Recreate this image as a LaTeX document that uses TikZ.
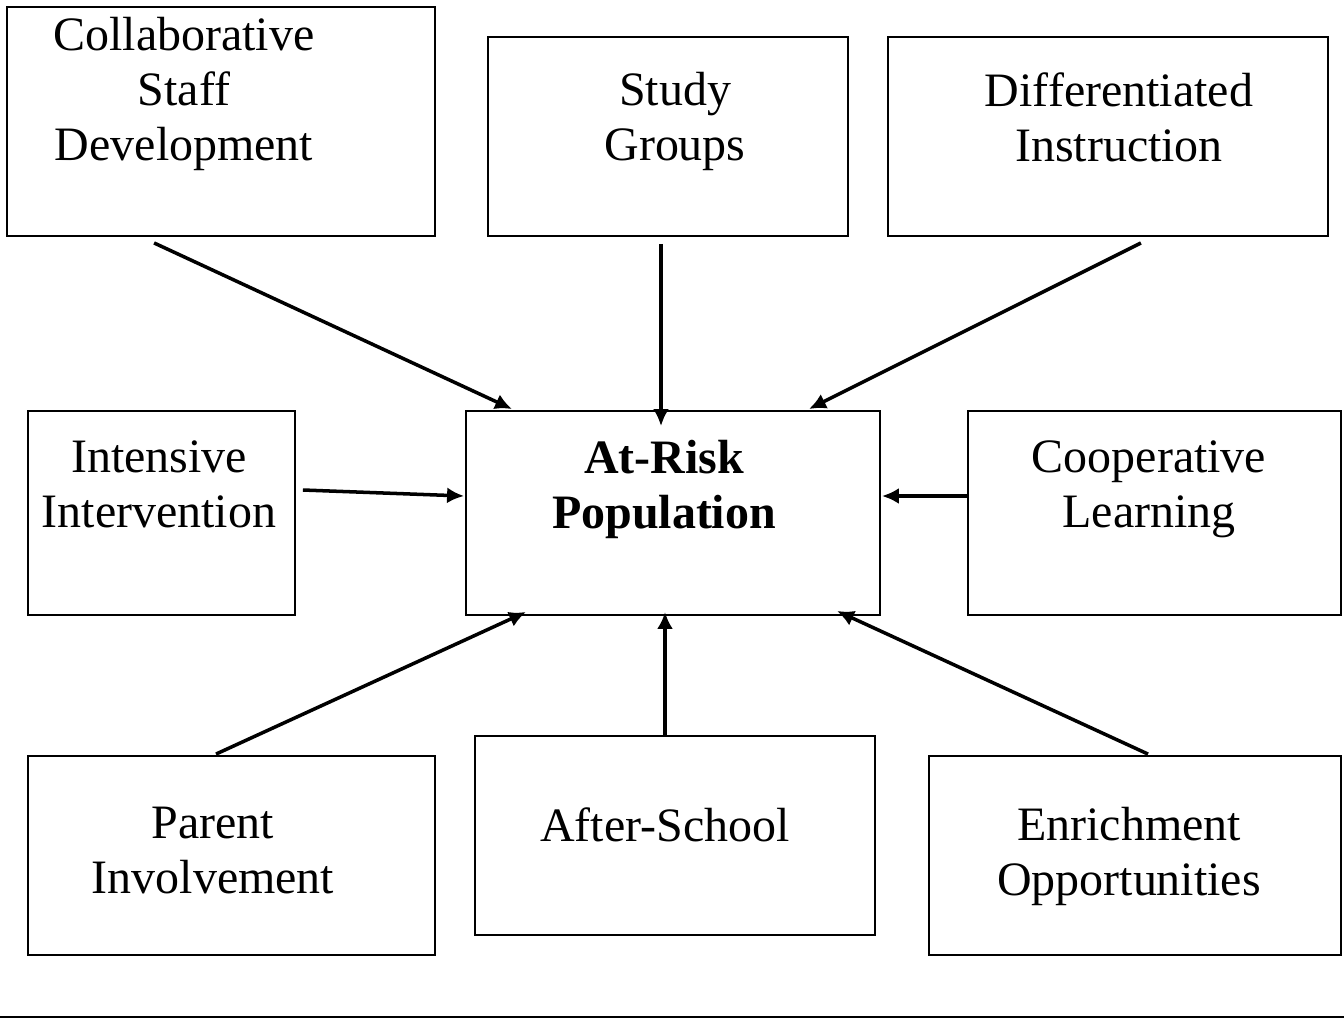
\documentclass[tikz,border=0pt]{standalone}
\usepackage{fontspec}
\setmainfont{Liberation Serif}
\usetikzlibrary{arrows.meta}

\begin{document}
\begin{tikzpicture}[x=0.02cm, y=-0.02cm,
    box/.style = {draw, line width=1.1pt, inner sep=0pt},
    txt/.style = {anchor=north, align=center, inner sep=0pt,
        font=\fontsize{27.3}{31.3}\selectfont},
    arr/.style = {line width=2pt, -{Latex[length=0.34cm, width=0.32cm]}}]
\useasboundingbox (0,0) rectangle (1344,1018);

\node[box, minimum width=8.56cm, minimum height=4.58cm] (collab) at (221,121.5) {};
\node[box, minimum width=7.20cm, minimum height=3.98cm] (study) at (668,136.5) {};
\node[box, minimum width=8.80cm, minimum height=3.98cm] (diff) at (1108,136.5) {};
\node[box, minimum width=5.34cm, minimum height=4.08cm] (intens) at (161.5,513) {};
\node[box, minimum width=8.28cm, minimum height=4.08cm] (risk) at (673,513) {};
\node[box, minimum width=7.46cm, minimum height=4.08cm] (coop) at (1154.5,513) {};
\node[box, minimum width=8.14cm, minimum height=3.98cm] (parent) at (231.5,855.5) {};
\node[box, minimum width=8.00cm, minimum height=3.98cm] (after) at (675,835.5) {};
\node[box, minimum width=8.24cm, minimum height=3.98cm] (enrich) at (1135,855.5) {};

\node[txt] (collabtxt) at (184,17) {Collaborative\\Staff\hspace*{0.3cm}\\Development};
\node[txt] (studytxt) at (675,72) {Study\\Groups};
\node[txt] (difftxt) at (1119,72) {Differentiated\\Instruction};
\node[txt] (intenstxt) at (159,440) {Intensive\\Intervention};
\node[txt, font=\fontsize{27.3}{31.3}\selectfont\bfseries] (risktxt) at (664,440) {At-Risk\\Population};
\node[txt] (cooptxt) at (1149,440) {Cooperative\\Learning};
\node[txt] (parenttxt) at (213,807) {Parent\\Involvement};
\node[txt] (aftertxt) at (665,807) {After-School};
\node[txt] (enrichtxt) at (1129,807) {Enrichment\\Opportunities};

\draw[arr] ([shift={(148,6)}]collab.south west) -- ([shift={(47,-1)}]risk.north west);
\draw[arr] ([shift={(-7,7)}]study.south) -- ([shift={(-12,16)}]risk.north);
\draw[arr] ([shift={(-188,6)}]diff.south east) -- ([shift={(-72,-1)}]risk.north east);
\draw[arr] ([shift={(7,-23)}]intens.east) -- ([shift={(-1,-17)}]risk.west);
\draw[arr] ([shift={(0,-17)}]coop.west) -- ([shift={(1,-17)}]risk.east);
\draw[arr] ([shift={(-15.5,-1)}]parent.north) -- ([shift={(61,-4)}]risk.south west);
\draw[arr] ([shift={(-10,0)}]after.north) -- ([shift={(-8,-4)}]risk.south);
\draw[arr] ([shift={(13,-1)}]enrich.north) -- ([shift={(-44,-5)}]risk.south east);

\draw[line width=1.1pt] (0,1017) -- (1344,1017);
\end{tikzpicture}
\end{document}
